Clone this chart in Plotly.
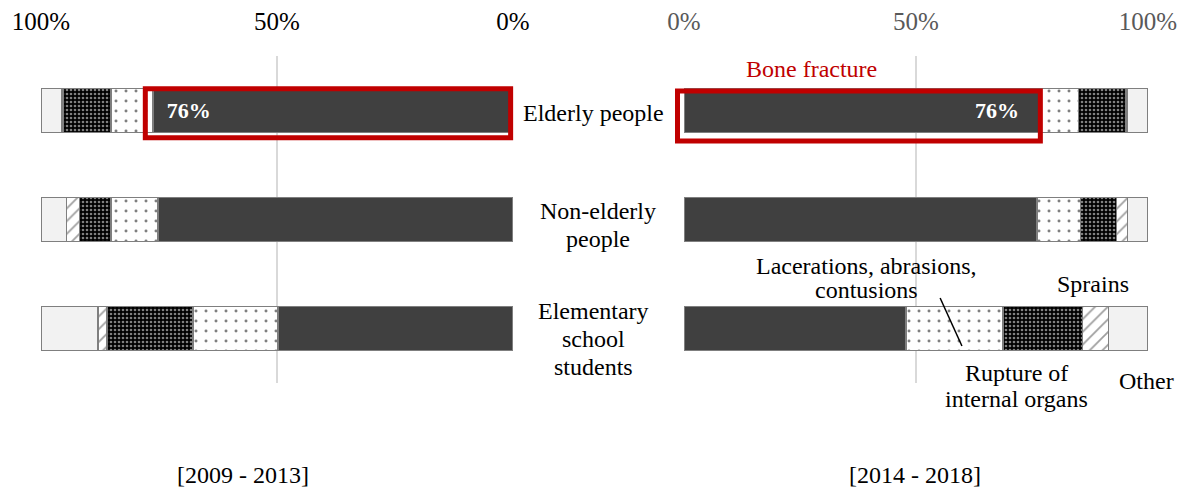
import plotly.graph_objects as go

# Share of injury types by group, two periods (percent)
groups = ["Elderly people", "Non-elderly people", "Elementary school students"]
injury_types = ["Bone fracture", "Lacerations, abrasions, contusions",
                "Rupture of internal organs", "Sprains", "Other"]

fracture_2009 = [76.3, 75.2, 49.8]
laceration_2009 = [8.9, 10.0, 18.0]
rupture_2009 = [10.0, 6.6, 18.2]
sprain_2009 = [0.4, 2.8, 1.9]
other_2009 = [4.4, 5.4, 12.1]

fracture_2014 = [76.4, 76.1, 47.8]
laceration_2014 = [8.6, 9.3, 20.9]
rupture_2014 = [10.1, 7.8, 17.2]
sprain_2014 = [0.4, 2.4, 5.6]
other_2014 = [4.5, 4.4, 8.5]

tick_vals = [0, 50, 100]
tick_text = ["0%", "50%", "100%"]

W, H = 1188, 490
SERIF = "Liberation Serif, Times New Roman, serif"
EDGE = dict(color="#7f7f7f", width=1.5)
NBSP = "\u00a0"

LEFT_DOM = [41 / W, 513 / W]
RIGHT_DOM = [684 / W, 1148 / W]
Y_DOM = [1 - 383 / H, 1 - 56 / H]
LEFT_RANGE = [100, 0]
RIGHT_RANGE = [0, 100]
Y_RANGE = [2.5, -0.5]

styles = {
    "Bone fracture": dict(color="#404040", line=EDGE),
    "Lacerations, abrasions, contusions": dict(
        color="white", line=EDGE,
        pattern=dict(shape=".", fgcolor="black", bgcolor="white", size=10, solidity=0.07)),
    "Rupture of internal organs": dict(
        color="black", line=EDGE,
        pattern=dict(shape=".", fgcolor="white", bgcolor="black", size=4, solidity=0.35)),
    "Sprains": dict(
        color="white", line=EDGE,
        pattern=dict(shape="/", fgcolor="#404040", bgcolor="white", size=9, solidity=0.2)),
    "Other": dict(color="#f2f2f2", line=EDGE),
}

# (axis, series, padding before / after the value label)
periods = [
    ("x", [fracture_2009, laceration_2009, rupture_2009, sprain_2009, other_2009],
     NBSP * 2, ""),
    ("x2", [fracture_2014, laceration_2014, rupture_2014, sprain_2014, other_2014],
     "", NBSP * 3),
]

fig = go.Figure()
for xaxis, series, pre, post in periods:
    for name, vals in zip(injury_types, series):
        text = None
        if name == "Bone fracture":
            text = [f"{pre}{vals[0]:.0f}%{post}", "", ""]
        fig.add_trace(go.Bar(
            y=groups, x=vals, orientation="h", name=name,
            xaxis=xaxis, yaxis="y", width=0.4,
            marker=styles[name],
            text=text, textposition="inside", insidetextanchor="end",
            textfont=dict(family=SERIF, size=22, color="white", weight="bold"),
            showlegend=False, hoverinfo="skip",
        ))

axis_common = dict(
    side="top", tickvals=tick_vals, ticktext=tick_text,
    showgrid=True, gridcolor="#d9d9d9", gridwidth=1.5, zeroline=False,
    ticks="outside", ticklen=15, tickcolor="rgba(0,0,0,0)",
    showline=False, fixedrange=True, automargin=False, autorange=False,
)

fig.update_layout(
    width=W, height=H,
    margin=dict(l=0, r=0, t=0, b=0, autoexpand=False),
    paper_bgcolor="white", plot_bgcolor="white",
    barmode="stack",
    font=dict(family=SERIF, size=24, color="black"),
    xaxis=dict(axis_common, domain=LEFT_DOM, range=LEFT_RANGE,
               tickfont=dict(family=SERIF, size=25, color="black")),
    xaxis2=dict(axis_common, domain=RIGHT_DOM, range=RIGHT_RANGE,
                tickfont=dict(family=SERIF, size=25, color="#595959")),
    yaxis=dict(domain=Y_DOM, categoryorder="array",
               categoryarray=groups, range=Y_RANGE, showticklabels=False,
               showgrid=False, zeroline=False, fixedrange=True, automargin=False),
)


def to_paper(v, dom, rng):
    """Map a data value on a linear axis to paper coordinates."""
    return dom[0] + (v - rng[0]) / (rng[1] - rng[0]) * (dom[1] - dom[0])


# Highlight boxes around the elderly bone-fracture bars (paper refs so the
# outline is not clipped at the plot edge)
boxes = [
    (0.5, fracture_2009[0] + 1.6, -0.2, 0.25, LEFT_DOM, LEFT_RANGE),
    (-1.4, fracture_2014[0] + 0.4, -0.18, 0.28, RIGHT_DOM, RIGHT_RANGE),
]
for xa, xb, ya, yb, dom, rng in boxes:
    fig.add_shape(type="rect", xref="paper", yref="paper",
                  x0=to_paper(xa, dom, rng), x1=to_paper(xb, dom, rng),
                  y0=to_paper(ya, Y_DOM, Y_RANGE), y1=to_paper(yb, Y_DOM, Y_RANGE),
                  line=dict(color="#c00000", width=5))

# Leader line into the lacerations segment of the elementary-school bar
fig.add_shape(type="line", xref="x2", yref="y",
              x0=fracture_2014[2] + 7.4, y0=1.72,
              x1=fracture_2014[2] + 12.1, y1=2.16,
              line=dict(color="black", width=1.5))

# Text labels: (text, x px, y px, colour, size)
labels = [
    ("Elderly people", 593, 113, "black", 24),
    ("Non-elderly", 598, 211, "black", 24),
    ("people", 598, 239, "black", 24),
    ("Elementary", 593, 311, "black", 24),
    ("school", 593, 339, "black", 24),
    ("students", 593, 367, "black", 24),
    ("Bone fracture", 811, 69, "#c00000", 24),
    ("Lacerations, abrasions,", 866, 266, "black", 24),
    ("contusions", 866, 290, "black", 24),
    ("Sprains", 1093, 284, "black", 24),
    ("Rupture of", 1016, 373, "black", 24),
    ("internal organs", 1016, 399, "black", 24),
    ("Other", 1146, 381, "black", 24),
    ("[2009 - 2013]", 243, 475, "black", 24),
    ("[2014 - 2018]", 915, 475, "black", 24),
]
for txt, px, py, col, sz in labels:
    fig.add_annotation(text=txt, xref="paper", yref="paper",
                       x=px / W, y=1 - py / H, showarrow=False,
                       xanchor="center", yanchor="middle",
                       font=dict(family=SERIF, size=sz, color=col),
                       align="center")

fig.write_html("out.html")
